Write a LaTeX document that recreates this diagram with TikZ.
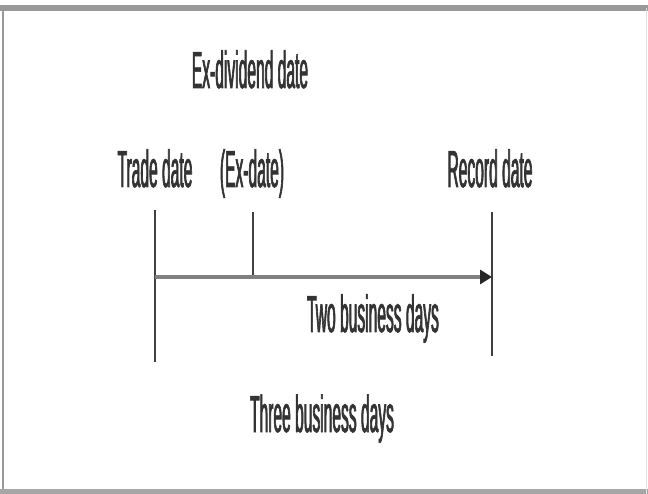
\documentclass[tikz,border=0pt]{standalone}
\usepackage{fontspec}
\setmainfont[FakeStretch=0.3, FakeBold=1.2]{Liberation Sans}
\usetikzlibrary{arrows.meta}
\begin{document}
\begin{tikzpicture}[x=1pt, y=-1pt, every node/.style={font=\fontsize{52}{54}\selectfont, inner sep=0pt, anchor=base, text=black!80}]
          \useasboundingbox (0,0) rectangle (648,494);
          % frame
          \draw [gray!80, line width=6pt] (0,8) -- (648,8);
          \draw [gray!80, line width=2pt] (3,8) -- (3,494);
          \draw [gray!70, line width=5pt] (0,491) -- (648,491);
          \draw [gray!25, line width=1pt] (646,8) -- (646,494);
          % labels
          \node (exdiv) at (250,88) {Ex-dividend date};
          \node (trade) at (155,187) {Trade date};
          \node (exdate) at (252,187) {(Ex-date)};
          \node (record) at (490,187) {Record date};
          \node (two) at (373,332) {Two business days};
          \node (three) at (322,432) {Three business days};
          % ticks
          \coordinate (t1) at (155,210);
          \coordinate (t2) at (155,362);
          \coordinate (e1) at (253,212);
          \coordinate (e2) at (253,277);
          \coordinate (r1) at (492,212);
          \coordinate (r2) at (492,356);
          \draw [black!75, line width=1.2pt] (t1) -- (t2);
          \draw [black!75, line width=1.2pt] (e1) -- (e2);
          \draw [black!75, line width=1.2pt] (r1) -- (r2);
          \draw [gray, line width=4pt, -{Triangle[length=12pt,width=14pt,black!85]}] (t1 |- e2) -- (r1 |- e2);
        \end{tikzpicture}
\end{document}
